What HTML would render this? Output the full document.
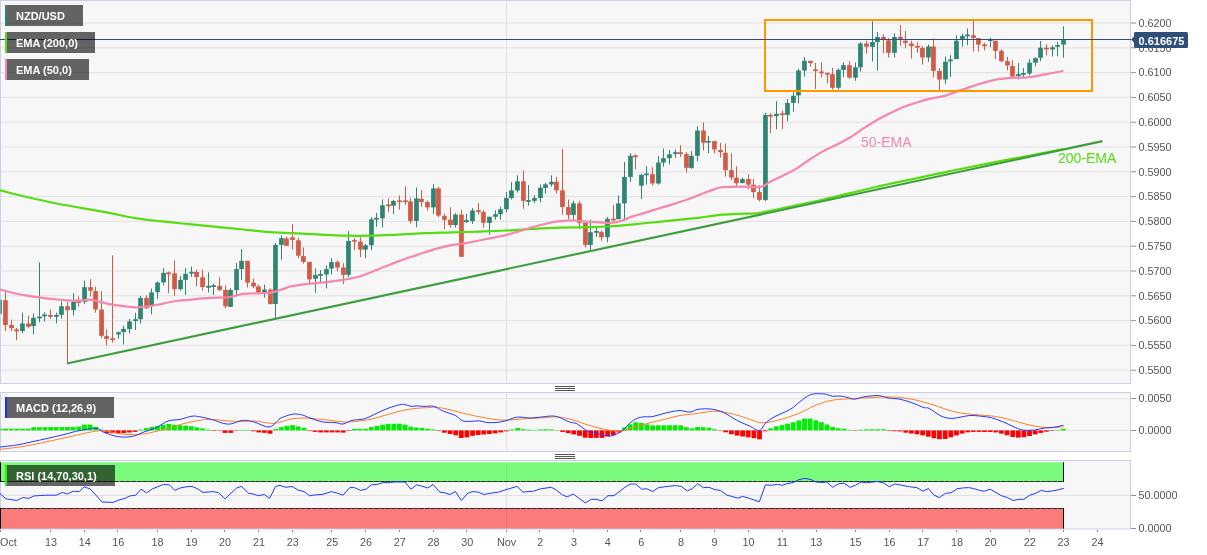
<!DOCTYPE html>
<html lang="en"><head><meta charset="utf-8"><title>NZD/USD chart</title>
<style>html,body{margin:0;padding:0;background:#fff;}body{width:1207px;height:555px;overflow:hidden;}svg{display:block}</style>
</head><body>
<svg width="1207" height="555" viewBox="0 0 1207 555" font-family="'Liberation Sans', Arial, sans-serif">
<rect width="1207" height="555" fill="#ffffff"/>
<rect x="0.5" y="0.5" width="1130.0" height="383.0" fill="#f7f7f7" stroke="#c9cfe6" stroke-width="1"/>
<rect x="0.5" y="392.5" width="1130.0" height="59.0" fill="#f7f7f7" stroke="#c9cfe6" stroke-width="1"/>
<rect x="0.5" y="460.5" width="1130.0" height="68.5" fill="#f7f7f7" stroke="#c9cfe6" stroke-width="1"/>
<g stroke="#e1e1e1" stroke-width="1">
<line x1="1" y1="23.0" x2="1130" y2="23.0"/>
<line x1="1" y1="47.8" x2="1130" y2="47.8"/>
<line x1="1" y1="72.6" x2="1130" y2="72.6"/>
<line x1="1" y1="97.4" x2="1130" y2="97.4"/>
<line x1="1" y1="122.2" x2="1130" y2="122.2"/>
<line x1="1" y1="147.0" x2="1130" y2="147.0"/>
<line x1="1" y1="171.8" x2="1130" y2="171.8"/>
<line x1="1" y1="196.6" x2="1130" y2="196.6"/>
<line x1="1" y1="221.4" x2="1130" y2="221.4"/>
<line x1="1" y1="246.2" x2="1130" y2="246.2"/>
<line x1="1" y1="271.0" x2="1130" y2="271.0"/>
<line x1="1" y1="295.8" x2="1130" y2="295.8"/>
<line x1="1" y1="320.6" x2="1130" y2="320.6"/>
<line x1="1" y1="345.4" x2="1130" y2="345.4"/>
<line x1="1" y1="370.2" x2="1130" y2="370.2"/>
<line x1="506.5" y1="1" x2="506.5" y2="383"/>
<line x1="506.5" y1="393" x2="506.5" y2="451"/>
<line x1="506.5" y1="461" x2="506.5" y2="528"/>
<line x1="1" y1="398.5" x2="1130" y2="398.5"/>
<line x1="1" y1="430.5" x2="1130" y2="430.5"/>
<line x1="1" y1="495.5" x2="1130" y2="495.5"/>
</g>
<rect x="-1.0" y="293.2" width="1" height="28.1" fill="#2f8572"/>
<rect x="0.5" y="299.7" width="1.35" height="14.1" fill="#2f8572"/>
<rect x="5.0" y="292.2" width="1" height="38.9" fill="#d25a46"/>
<rect x="3.1" y="300.2" width="4.70" height="24.9" fill="#d25a46"/>
<rect x="11.0" y="319.6" width="1" height="11.5" fill="#d25a46"/>
<rect x="9.2" y="325.0" width="4.70" height="3.2" fill="#d25a46"/>
<rect x="16.0" y="327.8" width="1" height="12.5" fill="#d25a46"/>
<rect x="14.2" y="329.4" width="4.70" height="1.9" fill="#d25a46"/>
<rect x="22.0" y="312.7" width="1" height="20.5" fill="#2f8572"/>
<rect x="20.1" y="323.5" width="4.70" height="7.6" fill="#2f8572"/>
<rect x="28.0" y="315.5" width="1" height="12.3" fill="#d25a46"/>
<rect x="26.1" y="323.5" width="4.70" height="3.2" fill="#d25a46"/>
<rect x="33.0" y="313.4" width="1" height="21.0" fill="#2f8572"/>
<rect x="31.1" y="317.7" width="4.70" height="8.4" fill="#2f8572"/>
<rect x="39.0" y="262.3" width="1" height="60.1" fill="#2f8572"/>
<rect x="37.1" y="316.6" width="4.70" height="1.8" fill="#2f8572"/>
<rect x="44.0" y="312.3" width="1" height="9.1" fill="#2f8572"/>
<rect x="42.1" y="314.5" width="4.70" height="1.8" fill="#2f8572"/>
<rect x="50.0" y="309.5" width="1" height="9.3" fill="#d25a46"/>
<rect x="48.1" y="315.0" width="4.70" height="1.8" fill="#d25a46"/>
<rect x="56.0" y="312.7" width="1" height="10.8" fill="#2f8572"/>
<rect x="54.1" y="315.0" width="4.70" height="1.8" fill="#2f8572"/>
<rect x="61.0" y="301.2" width="1" height="17.5" fill="#2f8572"/>
<rect x="59.1" y="306.2" width="4.70" height="8.6" fill="#2f8572"/>
<rect x="67.0" y="301.9" width="1" height="62.1" fill="#d25a46"/>
<rect x="65.2" y="306.2" width="4.70" height="3.9" fill="#d25a46"/>
<rect x="73.0" y="293.2" width="1" height="22.3" fill="#2f8572"/>
<rect x="71.2" y="301.9" width="4.70" height="8.2" fill="#2f8572"/>
<rect x="78.0" y="296.5" width="1" height="10.2" fill="#d25a46"/>
<rect x="76.2" y="301.0" width="4.70" height="1.8" fill="#d25a46"/>
<rect x="84.0" y="280.7" width="1" height="23.4" fill="#2f8572"/>
<rect x="82.2" y="287.2" width="4.70" height="14.7" fill="#2f8572"/>
<rect x="90.0" y="279.2" width="1" height="17.3" fill="#d25a46"/>
<rect x="88.2" y="287.2" width="4.70" height="3.5" fill="#d25a46"/>
<rect x="95.0" y="286.8" width="1" height="25.9" fill="#d25a46"/>
<rect x="93.2" y="291.1" width="4.70" height="18.4" fill="#d25a46"/>
<rect x="101.0" y="291.1" width="1" height="47.1" fill="#d25a46"/>
<rect x="99.2" y="309.5" width="4.70" height="26.4" fill="#d25a46"/>
<rect x="106.0" y="329.6" width="1" height="16.0" fill="#d25a46"/>
<rect x="104.2" y="336.1" width="4.70" height="2.8" fill="#d25a46"/>
<rect x="112.0" y="255.4" width="1" height="87.1" fill="#d25a46"/>
<rect x="110.2" y="338.3" width="4.70" height="1.8" fill="#d25a46"/>
<rect x="118.0" y="331.7" width="1" height="6.9" fill="#2f8572"/>
<rect x="116.2" y="332.2" width="4.70" height="2.2" fill="#2f8572"/>
<rect x="123.0" y="325.7" width="1" height="18.8" fill="#2f8572"/>
<rect x="121.2" y="328.9" width="4.70" height="3.2" fill="#2f8572"/>
<rect x="129.0" y="318.8" width="1" height="14.5" fill="#2f8572"/>
<rect x="127.2" y="321.4" width="4.70" height="7.6" fill="#2f8572"/>
<rect x="135.0" y="312.7" width="1" height="17.3" fill="#2f8572"/>
<rect x="133.2" y="319.2" width="4.70" height="1.8" fill="#2f8572"/>
<rect x="140.0" y="296.1" width="1" height="27.5" fill="#2f8572"/>
<rect x="138.2" y="298.0" width="4.70" height="21.2" fill="#2f8572"/>
<rect x="146.0" y="295.4" width="1" height="13.4" fill="#d25a46"/>
<rect x="144.2" y="298.0" width="4.70" height="10.4" fill="#d25a46"/>
<rect x="151.0" y="288.5" width="1" height="25.9" fill="#2f8572"/>
<rect x="149.2" y="292.4" width="4.70" height="13.0" fill="#2f8572"/>
<rect x="157.0" y="281.6" width="1" height="17.3" fill="#2f8572"/>
<rect x="155.2" y="282.5" width="4.70" height="9.7" fill="#2f8572"/>
<rect x="163.0" y="268.0" width="1" height="17.3" fill="#2f8572"/>
<rect x="161.2" y="272.9" width="4.70" height="9.5" fill="#2f8572"/>
<rect x="168.0" y="271.6" width="1" height="21.6" fill="#d25a46"/>
<rect x="166.2" y="272.4" width="4.70" height="1.8" fill="#d25a46"/>
<rect x="174.0" y="260.4" width="1" height="35.7" fill="#d25a46"/>
<rect x="172.2" y="273.4" width="4.70" height="15.8" fill="#d25a46"/>
<rect x="180.0" y="276.0" width="1" height="14.7" fill="#2f8572"/>
<rect x="178.2" y="279.9" width="4.70" height="9.3" fill="#2f8572"/>
<rect x="185.0" y="268.0" width="1" height="27.0" fill="#2f8572"/>
<rect x="183.2" y="273.8" width="4.70" height="6.1" fill="#2f8572"/>
<rect x="191.0" y="266.5" width="1" height="10.2" fill="#2f8572"/>
<rect x="189.2" y="271.8" width="4.70" height="1.8" fill="#2f8572"/>
<rect x="196.0" y="269.5" width="1" height="16.9" fill="#d25a46"/>
<rect x="194.2" y="271.9" width="4.70" height="5.2" fill="#d25a46"/>
<rect x="202.0" y="269.5" width="1" height="21.2" fill="#d25a46"/>
<rect x="200.2" y="277.3" width="4.70" height="9.7" fill="#d25a46"/>
<rect x="208.0" y="272.3" width="1" height="20.1" fill="#2f8572"/>
<rect x="206.2" y="285.9" width="4.70" height="1.8" fill="#2f8572"/>
<rect x="213.0" y="283.8" width="1" height="11.2" fill="#2f8572"/>
<rect x="211.2" y="285.2" width="4.70" height="1.8" fill="#2f8572"/>
<rect x="219.0" y="277.3" width="1" height="13.8" fill="#d25a46"/>
<rect x="217.2" y="285.9" width="4.70" height="4.1" fill="#d25a46"/>
<rect x="225.0" y="285.3" width="1" height="23.1" fill="#d25a46"/>
<rect x="223.2" y="290.0" width="4.70" height="16.4" fill="#d25a46"/>
<rect x="230.0" y="288.1" width="1" height="18.8" fill="#2f8572"/>
<rect x="228.2" y="290.0" width="4.70" height="16.9" fill="#2f8572"/>
<rect x="236.0" y="263.0" width="1" height="32.0" fill="#2f8572"/>
<rect x="234.2" y="269.1" width="4.70" height="21.0" fill="#2f8572"/>
<rect x="241.0" y="249.2" width="1" height="30.7" fill="#2f8572"/>
<rect x="239.2" y="260.8" width="4.70" height="8.2" fill="#2f8572"/>
<rect x="247.0" y="260.8" width="1" height="26.6" fill="#d25a46"/>
<rect x="245.2" y="260.8" width="4.70" height="21.8" fill="#d25a46"/>
<rect x="253.0" y="278.4" width="1" height="9.7" fill="#d25a46"/>
<rect x="251.2" y="282.7" width="4.70" height="3.7" fill="#d25a46"/>
<rect x="258.0" y="284.6" width="1" height="8.6" fill="#d25a46"/>
<rect x="256.1" y="286.4" width="4.70" height="6.1" fill="#d25a46"/>
<rect x="264.0" y="284.6" width="1" height="13.0" fill="#2f8572"/>
<rect x="262.1" y="289.6" width="4.70" height="2.8" fill="#2f8572"/>
<rect x="270.0" y="288.5" width="1" height="15.6" fill="#d25a46"/>
<rect x="268.1" y="289.6" width="4.70" height="14.5" fill="#d25a46"/>
<rect x="275.0" y="243.1" width="1" height="76.8" fill="#2f8572"/>
<rect x="273.1" y="244.8" width="4.70" height="59.2" fill="#2f8572"/>
<rect x="281.0" y="235.5" width="1" height="24.2" fill="#2f8572"/>
<rect x="279.1" y="238.1" width="4.70" height="6.7" fill="#2f8572"/>
<rect x="286.0" y="236.6" width="1" height="9.1" fill="#d25a46"/>
<rect x="284.1" y="238.4" width="4.70" height="7.4" fill="#d25a46"/>
<rect x="292.0" y="224.1" width="1" height="25.5" fill="#d25a46"/>
<rect x="290.1" y="237.3" width="4.70" height="2.6" fill="#d25a46"/>
<rect x="298.0" y="237.7" width="1" height="20.5" fill="#d25a46"/>
<rect x="296.1" y="240.3" width="4.70" height="15.4" fill="#d25a46"/>
<rect x="303.0" y="247.4" width="1" height="16.2" fill="#d25a46"/>
<rect x="301.1" y="256.1" width="4.70" height="5.8" fill="#d25a46"/>
<rect x="309.0" y="261.9" width="1" height="22.3" fill="#d25a46"/>
<rect x="307.1" y="261.9" width="4.70" height="17.5" fill="#d25a46"/>
<rect x="315.0" y="268.4" width="1" height="24.4" fill="#2f8572"/>
<rect x="313.1" y="275.1" width="4.70" height="3.7" fill="#2f8572"/>
<rect x="320.0" y="270.1" width="1" height="11.9" fill="#2f8572"/>
<rect x="318.1" y="274.0" width="4.70" height="1.8" fill="#2f8572"/>
<rect x="326.0" y="265.4" width="1" height="23.1" fill="#2f8572"/>
<rect x="324.1" y="269.1" width="4.70" height="5.4" fill="#2f8572"/>
<rect x="331.0" y="258.2" width="1" height="16.2" fill="#2f8572"/>
<rect x="329.1" y="262.1" width="4.70" height="6.5" fill="#2f8572"/>
<rect x="337.0" y="260.4" width="1" height="10.8" fill="#d25a46"/>
<rect x="335.1" y="262.1" width="4.70" height="5.4" fill="#d25a46"/>
<rect x="343.0" y="263.2" width="1" height="21.0" fill="#d25a46"/>
<rect x="341.1" y="267.5" width="4.70" height="7.4" fill="#d25a46"/>
<rect x="348.0" y="231.2" width="1" height="45.8" fill="#2f8572"/>
<rect x="346.1" y="240.9" width="4.70" height="33.9" fill="#2f8572"/>
<rect x="354.0" y="238.1" width="1" height="12.1" fill="#d25a46"/>
<rect x="352.1" y="239.9" width="4.70" height="1.8" fill="#d25a46"/>
<rect x="360.0" y="237.3" width="1" height="19.9" fill="#d25a46"/>
<rect x="358.1" y="241.6" width="4.70" height="8.0" fill="#d25a46"/>
<rect x="365.0" y="243.8" width="1" height="14.5" fill="#2f8572"/>
<rect x="363.1" y="245.3" width="4.70" height="4.3" fill="#2f8572"/>
<rect x="371.0" y="217.2" width="1" height="33.1" fill="#2f8572"/>
<rect x="369.1" y="219.3" width="4.70" height="25.9" fill="#2f8572"/>
<rect x="376.0" y="212.8" width="1" height="14.1" fill="#2f8572"/>
<rect x="374.1" y="217.8" width="4.70" height="1.8" fill="#2f8572"/>
<rect x="382.0" y="199.4" width="1" height="27.9" fill="#2f8572"/>
<rect x="380.1" y="205.3" width="4.70" height="13.0" fill="#2f8572"/>
<rect x="388.0" y="198.4" width="1" height="13.8" fill="#d25a46"/>
<rect x="386.1" y="204.4" width="4.70" height="1.8" fill="#d25a46"/>
<rect x="393.0" y="199.9" width="1" height="14.1" fill="#2f8572"/>
<rect x="391.1" y="200.9" width="4.70" height="4.8" fill="#2f8572"/>
<rect x="399.0" y="195.5" width="1" height="14.1" fill="#d25a46"/>
<rect x="397.1" y="200.4" width="4.70" height="1.8" fill="#d25a46"/>
<rect x="405.0" y="186.2" width="1" height="18.6" fill="#d25a46"/>
<rect x="403.1" y="200.4" width="4.70" height="1.8" fill="#d25a46"/>
<rect x="410.0" y="197.7" width="1" height="25.9" fill="#d25a46"/>
<rect x="408.1" y="201.4" width="4.70" height="19.5" fill="#d25a46"/>
<rect x="416.0" y="187.5" width="1" height="39.8" fill="#2f8572"/>
<rect x="414.1" y="198.4" width="4.70" height="22.5" fill="#2f8572"/>
<rect x="421.0" y="190.1" width="1" height="16.9" fill="#d25a46"/>
<rect x="419.1" y="198.8" width="4.70" height="3.2" fill="#d25a46"/>
<rect x="427.0" y="200.5" width="1" height="10.2" fill="#d25a46"/>
<rect x="425.1" y="202.0" width="4.70" height="5.4" fill="#d25a46"/>
<rect x="433.0" y="184.1" width="1" height="29.8" fill="#2f8572"/>
<rect x="431.1" y="188.4" width="4.70" height="19.0" fill="#2f8572"/>
<rect x="438.0" y="186.9" width="1" height="30.3" fill="#d25a46"/>
<rect x="436.1" y="188.4" width="4.70" height="27.2" fill="#d25a46"/>
<rect x="444.0" y="213.5" width="1" height="15.6" fill="#d25a46"/>
<rect x="442.1" y="216.1" width="4.70" height="3.7" fill="#d25a46"/>
<rect x="450.0" y="207.3" width="1" height="20.3" fill="#d25a46"/>
<rect x="448.1" y="219.6" width="4.70" height="5.4" fill="#d25a46"/>
<rect x="455.0" y="213.1" width="1" height="14.5" fill="#2f8572"/>
<rect x="453.1" y="214.6" width="4.70" height="10.4" fill="#2f8572"/>
<rect x="461.0" y="209.9" width="1" height="46.9" fill="#d25a46"/>
<rect x="459.1" y="214.6" width="4.70" height="42.2" fill="#d25a46"/>
<rect x="466.0" y="213.8" width="1" height="9.1" fill="#2f8572"/>
<rect x="464.1" y="220.2" width="4.70" height="1.8" fill="#2f8572"/>
<rect x="472.0" y="208.1" width="1" height="15.8" fill="#2f8572"/>
<rect x="470.1" y="210.5" width="4.70" height="10.6" fill="#2f8572"/>
<rect x="478.0" y="202.9" width="1" height="11.7" fill="#d25a46"/>
<rect x="476.1" y="210.2" width="4.70" height="1.8" fill="#d25a46"/>
<rect x="483.0" y="209.9" width="1" height="17.7" fill="#d25a46"/>
<rect x="481.1" y="212.0" width="4.70" height="10.8" fill="#d25a46"/>
<rect x="489.0" y="216.8" width="1" height="17.9" fill="#2f8572"/>
<rect x="487.1" y="216.8" width="4.70" height="6.1" fill="#2f8572"/>
<rect x="495.0" y="210.3" width="1" height="9.3" fill="#2f8572"/>
<rect x="493.1" y="214.2" width="4.70" height="2.6" fill="#2f8572"/>
<rect x="500.0" y="206.6" width="1" height="13.0" fill="#2f8572"/>
<rect x="498.1" y="209.2" width="4.70" height="5.0" fill="#2f8572"/>
<rect x="506.0" y="192.1" width="1" height="20.3" fill="#2f8572"/>
<rect x="504.1" y="198.0" width="4.70" height="11.2" fill="#2f8572"/>
<rect x="511.0" y="182.2" width="1" height="17.3" fill="#2f8572"/>
<rect x="509.1" y="190.4" width="4.70" height="7.6" fill="#2f8572"/>
<rect x="517.0" y="175.3" width="1" height="17.3" fill="#2f8572"/>
<rect x="515.1" y="181.3" width="4.70" height="9.1" fill="#2f8572"/>
<rect x="523.0" y="170.3" width="1" height="38.5" fill="#d25a46"/>
<rect x="521.1" y="181.3" width="4.70" height="19.5" fill="#d25a46"/>
<rect x="528.0" y="185.0" width="1" height="20.5" fill="#2f8572"/>
<rect x="526.1" y="200.1" width="4.70" height="1.8" fill="#2f8572"/>
<rect x="534.0" y="195.2" width="1" height="7.8" fill="#2f8572"/>
<rect x="532.1" y="198.0" width="4.70" height="2.8" fill="#2f8572"/>
<rect x="540.0" y="184.4" width="1" height="17.9" fill="#2f8572"/>
<rect x="538.1" y="187.8" width="4.70" height="10.2" fill="#2f8572"/>
<rect x="545.0" y="182.8" width="1" height="10.8" fill="#2f8572"/>
<rect x="543.1" y="184.4" width="4.70" height="3.5" fill="#2f8572"/>
<rect x="551.0" y="175.3" width="1" height="11.2" fill="#2f8572"/>
<rect x="549.1" y="181.8" width="4.70" height="2.6" fill="#2f8572"/>
<rect x="556.0" y="177.0" width="1" height="16.6" fill="#d25a46"/>
<rect x="554.1" y="181.8" width="4.70" height="8.6" fill="#d25a46"/>
<rect x="562.0" y="148.9" width="1" height="65.7" fill="#d25a46"/>
<rect x="560.1" y="190.4" width="4.70" height="16.6" fill="#d25a46"/>
<rect x="568.0" y="199.5" width="1" height="20.1" fill="#d25a46"/>
<rect x="566.1" y="207.1" width="4.70" height="7.8" fill="#d25a46"/>
<rect x="573.0" y="200.8" width="1" height="18.8" fill="#2f8572"/>
<rect x="571.1" y="203.4" width="4.70" height="11.5" fill="#2f8572"/>
<rect x="579.0" y="200.8" width="1" height="28.5" fill="#d25a46"/>
<rect x="577.1" y="203.4" width="4.70" height="19.5" fill="#d25a46"/>
<rect x="585.0" y="222.8" width="1" height="24.9" fill="#d25a46"/>
<rect x="583.1" y="222.8" width="4.70" height="22.1" fill="#d25a46"/>
<rect x="590.0" y="219.6" width="1" height="30.7" fill="#2f8572"/>
<rect x="588.1" y="232.1" width="4.70" height="12.8" fill="#2f8572"/>
<rect x="596.0" y="227.2" width="1" height="9.7" fill="#2f8572"/>
<rect x="594.1" y="231.0" width="4.70" height="1.8" fill="#2f8572"/>
<rect x="601.0" y="230.4" width="1" height="10.4" fill="#d25a46"/>
<rect x="599.1" y="232.1" width="4.70" height="5.2" fill="#d25a46"/>
<rect x="607.0" y="217.0" width="1" height="25.3" fill="#2f8572"/>
<rect x="605.1" y="218.8" width="4.70" height="18.4" fill="#2f8572"/>
<rect x="613.0" y="205.1" width="1" height="16.2" fill="#d25a46"/>
<rect x="611.1" y="218.7" width="4.70" height="1.8" fill="#d25a46"/>
<rect x="618.0" y="195.4" width="1" height="23.8" fill="#2f8572"/>
<rect x="616.1" y="203.4" width="4.70" height="15.8" fill="#2f8572"/>
<rect x="624.0" y="161.9" width="1" height="58.4" fill="#2f8572"/>
<rect x="622.1" y="177.0" width="4.70" height="26.4" fill="#2f8572"/>
<rect x="630.0" y="153.2" width="1" height="28.5" fill="#2f8572"/>
<rect x="628.1" y="155.8" width="4.70" height="21.2" fill="#2f8572"/>
<rect x="635.0" y="154.3" width="1" height="15.1" fill="#d25a46"/>
<rect x="633.1" y="155.4" width="4.70" height="1.8" fill="#d25a46"/>
<rect x="641.0" y="173.8" width="1" height="25.3" fill="#2f8572"/>
<rect x="639.1" y="174.9" width="4.70" height="10.8" fill="#2f8572"/>
<rect x="646.0" y="166.2" width="1" height="18.4" fill="#2f8572"/>
<rect x="644.1" y="173.5" width="4.70" height="1.8" fill="#2f8572"/>
<rect x="652.0" y="167.3" width="1" height="18.4" fill="#d25a46"/>
<rect x="650.1" y="174.2" width="4.70" height="9.3" fill="#d25a46"/>
<rect x="658.0" y="156.1" width="1" height="28.5" fill="#2f8572"/>
<rect x="656.1" y="162.5" width="4.70" height="21.0" fill="#2f8572"/>
<rect x="663.0" y="148.5" width="1" height="18.2" fill="#2f8572"/>
<rect x="661.1" y="158.2" width="4.70" height="4.3" fill="#2f8572"/>
<rect x="669.0" y="150.0" width="1" height="14.5" fill="#2f8572"/>
<rect x="667.1" y="154.3" width="4.70" height="3.9" fill="#2f8572"/>
<rect x="675.0" y="149.4" width="1" height="8.2" fill="#2f8572"/>
<rect x="673.1" y="152.2" width="4.70" height="1.8" fill="#2f8572"/>
<rect x="680.0" y="145.2" width="1" height="11.7" fill="#d25a46"/>
<rect x="678.1" y="152.2" width="4.70" height="1.8" fill="#d25a46"/>
<rect x="686.0" y="152.2" width="1" height="20.5" fill="#d25a46"/>
<rect x="684.1" y="154.1" width="4.70" height="13.8" fill="#d25a46"/>
<rect x="691.0" y="151.1" width="1" height="17.7" fill="#2f8572"/>
<rect x="689.1" y="155.8" width="4.70" height="12.1" fill="#2f8572"/>
<rect x="697.0" y="126.2" width="1" height="35.2" fill="#2f8572"/>
<rect x="695.1" y="130.5" width="4.70" height="25.3" fill="#2f8572"/>
<rect x="703.0" y="122.5" width="1" height="28.1" fill="#d25a46"/>
<rect x="701.1" y="130.5" width="4.70" height="12.3" fill="#d25a46"/>
<rect x="708.0" y="135.9" width="1" height="17.3" fill="#2f8572"/>
<rect x="706.1" y="140.9" width="4.70" height="1.8" fill="#2f8572"/>
<rect x="714.0" y="141.1" width="1" height="12.1" fill="#d25a46"/>
<rect x="712.1" y="141.1" width="4.70" height="8.4" fill="#d25a46"/>
<rect x="720.0" y="142.9" width="1" height="14.7" fill="#d25a46"/>
<rect x="718.1" y="150.0" width="4.70" height="2.2" fill="#d25a46"/>
<rect x="725.0" y="143.5" width="1" height="33.1" fill="#d25a46"/>
<rect x="723.1" y="152.8" width="4.70" height="17.3" fill="#d25a46"/>
<rect x="731.0" y="153.2" width="1" height="27.0" fill="#d25a46"/>
<rect x="729.1" y="170.1" width="4.70" height="7.4" fill="#d25a46"/>
<rect x="736.0" y="166.2" width="1" height="19.5" fill="#d25a46"/>
<rect x="734.1" y="177.7" width="4.70" height="5.4" fill="#d25a46"/>
<rect x="742.0" y="177.6" width="1" height="5.8" fill="#2f8572"/>
<rect x="740.1" y="179.1" width="4.70" height="3.9" fill="#2f8572"/>
<rect x="748.0" y="174.3" width="1" height="15.1" fill="#d25a46"/>
<rect x="746.1" y="179.1" width="4.70" height="5.6" fill="#d25a46"/>
<rect x="753.0" y="179.1" width="1" height="19.0" fill="#d25a46"/>
<rect x="751.1" y="184.7" width="4.70" height="7.4" fill="#d25a46"/>
<rect x="759.0" y="185.1" width="1" height="16.2" fill="#d25a46"/>
<rect x="757.1" y="192.1" width="4.70" height="7.8" fill="#d25a46"/>
<rect x="765.0" y="112.7" width="1" height="88.6" fill="#2f8572"/>
<rect x="763.1" y="114.9" width="4.70" height="85.0" fill="#2f8572"/>
<rect x="770.0" y="113.4" width="1" height="19.9" fill="#d25a46"/>
<rect x="768.1" y="114.8" width="4.70" height="1.8" fill="#d25a46"/>
<rect x="776.0" y="101.2" width="1" height="28.1" fill="#2f8572"/>
<rect x="774.1" y="113.8" width="4.70" height="2.4" fill="#2f8572"/>
<rect x="782.0" y="110.5" width="1" height="18.8" fill="#d25a46"/>
<rect x="780.1" y="113.3" width="4.70" height="1.8" fill="#d25a46"/>
<rect x="787.0" y="99.1" width="1" height="22.3" fill="#2f8572"/>
<rect x="785.1" y="103.0" width="4.70" height="11.9" fill="#2f8572"/>
<rect x="793.0" y="92.2" width="1" height="19.5" fill="#2f8572"/>
<rect x="791.1" y="95.8" width="4.70" height="7.1" fill="#2f8572"/>
<rect x="798.0" y="68.8" width="1" height="34.6" fill="#2f8572"/>
<rect x="796.1" y="70.5" width="4.70" height="24.9" fill="#2f8572"/>
<rect x="804.0" y="57.1" width="1" height="19.5" fill="#2f8572"/>
<rect x="802.1" y="60.8" width="4.70" height="9.7" fill="#2f8572"/>
<rect x="810.0" y="60.8" width="1" height="5.8" fill="#d25a46"/>
<rect x="808.1" y="60.8" width="4.70" height="2.2" fill="#d25a46"/>
<rect x="815.0" y="63.0" width="1" height="25.9" fill="#d25a46"/>
<rect x="813.1" y="69.4" width="4.70" height="1.8" fill="#d25a46"/>
<rect x="821.0" y="62.3" width="1" height="15.4" fill="#d25a46"/>
<rect x="819.1" y="71.5" width="4.70" height="1.8" fill="#d25a46"/>
<rect x="827.0" y="72.7" width="1" height="10.8" fill="#d25a46"/>
<rect x="825.1" y="72.8" width="4.70" height="1.8" fill="#d25a46"/>
<rect x="832.0" y="67.9" width="1" height="21.6" fill="#d25a46"/>
<rect x="830.1" y="74.2" width="4.70" height="13.6" fill="#d25a46"/>
<rect x="838.0" y="68.4" width="1" height="21.2" fill="#2f8572"/>
<rect x="836.1" y="69.9" width="4.70" height="17.9" fill="#2f8572"/>
<rect x="843.0" y="62.3" width="1" height="14.7" fill="#2f8572"/>
<rect x="841.1" y="65.1" width="4.70" height="4.8" fill="#2f8572"/>
<rect x="849.0" y="61.2" width="1" height="17.5" fill="#d25a46"/>
<rect x="847.1" y="65.1" width="4.70" height="12.5" fill="#d25a46"/>
<rect x="855.0" y="62.3" width="1" height="18.4" fill="#2f8572"/>
<rect x="853.1" y="67.3" width="4.70" height="10.4" fill="#2f8572"/>
<rect x="860.0" y="42.0" width="1" height="29.6" fill="#2f8572"/>
<rect x="858.1" y="43.5" width="4.70" height="23.8" fill="#2f8572"/>
<rect x="866.0" y="40.7" width="1" height="13.0" fill="#d25a46"/>
<rect x="864.1" y="43.5" width="4.70" height="3.2" fill="#d25a46"/>
<rect x="872.0" y="21.2" width="1" height="40.2" fill="#2f8572"/>
<rect x="870.1" y="42.0" width="4.70" height="4.8" fill="#2f8572"/>
<rect x="877.0" y="32.1" width="1" height="38.5" fill="#2f8572"/>
<rect x="875.1" y="37.0" width="4.70" height="5.0" fill="#2f8572"/>
<rect x="883.0" y="34.2" width="1" height="19.0" fill="#d25a46"/>
<rect x="881.1" y="37.0" width="4.70" height="2.2" fill="#d25a46"/>
<rect x="888.0" y="38.1" width="1" height="19.5" fill="#d25a46"/>
<rect x="886.1" y="40.3" width="4.70" height="12.5" fill="#d25a46"/>
<rect x="894.0" y="33.4" width="1" height="24.2" fill="#2f8572"/>
<rect x="892.1" y="37.0" width="4.70" height="15.8" fill="#2f8572"/>
<rect x="900.0" y="24.9" width="1" height="20.8" fill="#d25a46"/>
<rect x="898.1" y="37.0" width="4.70" height="1.9" fill="#d25a46"/>
<rect x="905.0" y="30.9" width="1" height="17.3" fill="#d25a46"/>
<rect x="903.1" y="40.7" width="4.70" height="2.2" fill="#d25a46"/>
<rect x="911.0" y="40.7" width="1" height="17.9" fill="#d25a46"/>
<rect x="909.1" y="43.5" width="4.70" height="2.6" fill="#d25a46"/>
<rect x="917.0" y="42.2" width="1" height="10.4" fill="#d25a46"/>
<rect x="915.1" y="45.8" width="4.70" height="1.8" fill="#d25a46"/>
<rect x="922.0" y="46.1" width="1" height="18.4" fill="#d25a46"/>
<rect x="920.1" y="47.8" width="4.70" height="9.7" fill="#d25a46"/>
<rect x="928.0" y="44.4" width="1" height="17.3" fill="#2f8572"/>
<rect x="926.1" y="46.5" width="4.70" height="11.0" fill="#2f8572"/>
<rect x="933.0" y="38.5" width="1" height="38.9" fill="#d25a46"/>
<rect x="931.1" y="46.5" width="4.70" height="24.4" fill="#d25a46"/>
<rect x="939.0" y="68.1" width="1" height="22.3" fill="#d25a46"/>
<rect x="937.1" y="70.9" width="4.70" height="8.6" fill="#d25a46"/>
<rect x="945.0" y="56.5" width="1" height="27.5" fill="#2f8572"/>
<rect x="943.1" y="61.6" width="4.70" height="17.9" fill="#2f8572"/>
<rect x="950.0" y="55.2" width="1" height="21.6" fill="#2f8572"/>
<rect x="948.1" y="59.5" width="4.70" height="1.8" fill="#2f8572"/>
<rect x="956.0" y="35.3" width="1" height="23.8" fill="#2f8572"/>
<rect x="954.1" y="40.7" width="4.70" height="18.4" fill="#2f8572"/>
<rect x="962.0" y="33.8" width="1" height="12.8" fill="#2f8572"/>
<rect x="960.1" y="35.9" width="4.70" height="3.7" fill="#2f8572"/>
<rect x="967.0" y="28.4" width="1" height="16.6" fill="#2f8572"/>
<rect x="965.1" y="34.5" width="4.70" height="1.8" fill="#2f8572"/>
<rect x="973.0" y="20.6" width="1" height="30.9" fill="#d25a46"/>
<rect x="971.1" y="35.3" width="4.70" height="2.6" fill="#d25a46"/>
<rect x="978.0" y="38.1" width="1" height="13.4" fill="#d25a46"/>
<rect x="976.1" y="38.1" width="4.70" height="6.5" fill="#d25a46"/>
<rect x="984.0" y="42.8" width="1" height="7.6" fill="#d25a46"/>
<rect x="982.1" y="44.4" width="4.70" height="1.8" fill="#d25a46"/>
<rect x="990.0" y="37.9" width="1" height="9.3" fill="#2f8572"/>
<rect x="988.1" y="39.2" width="4.70" height="1.8" fill="#2f8572"/>
<rect x="995.0" y="40.7" width="1" height="18.4" fill="#d25a46"/>
<rect x="993.1" y="40.7" width="4.70" height="10.2" fill="#d25a46"/>
<rect x="1001.0" y="49.3" width="1" height="13.0" fill="#d25a46"/>
<rect x="999.1" y="50.8" width="4.70" height="10.4" fill="#d25a46"/>
<rect x="1007.0" y="56.9" width="1" height="13.4" fill="#d25a46"/>
<rect x="1005.1" y="61.2" width="4.70" height="4.3" fill="#d25a46"/>
<rect x="1012.0" y="60.1" width="1" height="17.3" fill="#d25a46"/>
<rect x="1010.1" y="66.0" width="4.70" height="10.4" fill="#d25a46"/>
<rect x="1018.0" y="62.9" width="1" height="16.6" fill="#2f8572"/>
<rect x="1016.1" y="74.2" width="4.70" height="1.8" fill="#2f8572"/>
<rect x="1023.0" y="68.1" width="1" height="9.0" fill="#2f8572"/>
<rect x="1021.1" y="73.0" width="4.70" height="1.8" fill="#2f8572"/>
<rect x="1029.0" y="59.1" width="1" height="16.2" fill="#2f8572"/>
<rect x="1027.2" y="62.7" width="4.70" height="10.8" fill="#2f8572"/>
<rect x="1035.0" y="57.3" width="1" height="9.0" fill="#2f8572"/>
<rect x="1033.2" y="58.2" width="4.70" height="4.5" fill="#2f8572"/>
<rect x="1040.0" y="41.0" width="1" height="20.2" fill="#2f8572"/>
<rect x="1038.2" y="47.7" width="4.70" height="10.1" fill="#2f8572"/>
<rect x="1046.0" y="44.3" width="1" height="11.2" fill="#d25a46"/>
<rect x="1044.2" y="47.7" width="4.70" height="1.8" fill="#d25a46"/>
<rect x="1052.0" y="45.5" width="1" height="10.8" fill="#2f8572"/>
<rect x="1050.2" y="47.3" width="4.70" height="2.2" fill="#2f8572"/>
<rect x="1057.0" y="41.9" width="1" height="14.4" fill="#2f8572"/>
<rect x="1055.2" y="45.0" width="4.70" height="1.8" fill="#2f8572"/>
<rect x="1063.0" y="26.3" width="1" height="31.4" fill="#2f8572"/>
<rect x="1061.2" y="39.6" width="4.70" height="5.0" fill="#2f8572"/>
<path d="M0.0 190.3C4.5 191.4 18.0 194.9 27.0 197.0C36.0 199.1 45.0 201.2 54.0 203.0C63.0 204.8 72.0 206.2 81.0 207.8C90.0 209.4 99.0 211.0 108.0 212.7C117.0 214.4 126.0 216.6 135.0 218.1C144.0 219.6 153.0 220.4 162.0 221.4C171.0 222.4 180.0 223.2 189.0 224.1C198.0 225.0 207.0 225.9 216.0 226.8C225.0 227.7 234.0 228.6 243.0 229.5C252.0 230.4 261.0 231.5 270.0 232.2C279.0 232.8 289.2 233.1 297.0 233.4C304.8 233.8 309.2 233.9 317.0 234.3C324.8 234.7 335.0 235.5 344.0 235.7C353.0 235.9 362.0 235.9 371.0 235.7C380.0 235.5 389.0 235.0 398.0 234.6C407.0 234.2 416.0 233.6 425.0 233.2C434.0 232.8 443.0 232.7 452.0 232.4C461.0 232.1 470.0 231.9 479.0 231.6C488.0 231.3 497.0 230.9 506.0 230.5C515.0 230.1 524.0 229.4 533.0 228.9C542.0 228.4 551.0 227.9 560.0 227.6C569.0 227.3 579.2 227.4 587.0 227.2C594.8 227.0 599.2 227.0 607.0 226.5C614.8 226.0 625.0 225.1 634.0 224.3C643.0 223.5 652.0 222.5 661.0 221.6C670.0 220.7 681.5 219.6 688.0 218.9C694.5 218.2 694.7 218.3 700.0 217.6C705.3 216.9 713.3 215.5 720.0 214.9C726.7 214.3 734.2 214.2 740.0 213.9C745.8 213.7 751.3 213.6 755.0 213.4C758.7 213.2 759.5 213.0 762.0 212.6C764.5 212.2 767.0 211.4 770.0 210.8C773.0 210.2 775.0 209.9 780.0 208.8C785.0 207.8 793.3 205.9 800.0 204.5C806.7 203.1 811.7 202.1 820.0 200.2C828.3 198.3 840.5 195.3 850.0 193.1C859.5 190.9 870.3 188.4 877.0 186.8C883.7 185.2 885.5 184.7 890.0 183.7C894.5 182.7 897.2 182.3 904.0 180.9C910.8 179.5 923.3 176.8 931.0 175.2C938.7 173.6 945.5 172.0 950.0 171.1C954.5 170.2 952.2 170.7 958.0 169.5C963.8 168.3 976.0 165.9 985.0 164.1C994.0 162.3 1003.0 160.6 1012.0 158.9C1021.0 157.2 1030.4 155.5 1039.0 153.9C1047.6 152.3 1059.4 150.0 1063.5 149.2" fill="none" stroke="#55dd11" stroke-width="2.2" stroke-linejoin="round" stroke-linecap="butt"/>
<path d="M0.0 289.5C2.2 290.1 9.0 292.0 13.5 293.0C18.0 294.0 22.5 294.9 27.0 295.7C31.5 296.5 36.0 297.0 40.5 297.6C45.0 298.2 49.5 298.8 54.0 299.2C58.5 299.6 63.1 300.1 67.6 300.3C72.1 300.5 77.4 300.6 81.0 300.5C84.6 300.4 86.3 299.6 89.0 299.7C91.7 299.8 93.8 300.3 97.0 301.0C100.2 301.7 103.9 303.0 108.0 303.8C112.1 304.6 117.1 305.3 121.6 305.9C126.1 306.5 130.5 307.2 135.0 307.3C139.5 307.4 144.1 307.1 148.6 306.5C153.1 305.9 157.5 304.7 162.0 303.8C166.5 302.9 171.2 301.7 175.7 301.0C180.2 300.3 184.5 300.2 189.0 299.8C193.5 299.4 198.2 298.8 202.7 298.4C207.2 298.0 211.5 297.9 216.0 297.7C220.5 297.5 226.4 297.4 229.7 297.0C233.0 296.6 233.8 296.1 236.0 295.6C238.2 295.1 239.5 294.3 243.0 293.9C246.5 293.5 252.3 293.5 256.8 293.3C261.3 293.1 265.5 293.5 270.0 292.8C274.5 292.1 280.5 289.9 283.8 288.9C287.1 287.8 286.7 287.3 290.0 286.5C293.3 285.7 299.0 284.9 303.5 284.3C308.0 283.7 312.5 283.4 317.0 283.0C321.5 282.6 326.0 282.2 330.5 281.6C335.0 281.1 339.5 280.5 344.0 279.7C348.5 278.9 353.1 278.2 357.6 277.0C362.1 275.8 366.5 273.9 371.0 272.2C375.5 270.5 380.1 268.6 384.6 266.8C389.1 265.0 393.5 263.1 398.0 261.4C402.5 259.7 407.1 258.3 411.6 256.8C416.1 255.3 420.5 253.6 425.0 252.2C429.5 250.8 434.1 249.3 438.6 248.1C443.1 246.9 447.5 245.9 452.0 245.1C456.5 244.3 461.2 244.0 465.7 243.2C470.2 242.4 474.5 241.4 479.0 240.5C483.5 239.6 488.2 238.7 492.7 237.8C497.2 236.9 501.5 236.2 506.0 235.1C510.5 234.0 515.2 232.4 519.7 231.1C524.2 229.8 528.5 228.3 533.0 227.0C537.5 225.7 542.3 224.5 546.8 223.5C551.3 222.5 555.5 221.6 560.0 221.1C564.5 220.6 570.5 220.3 573.8 220.3C577.1 220.3 577.3 220.8 580.0 221.1C582.7 221.4 586.7 221.8 590.0 222.0C593.3 222.2 596.5 222.2 600.0 222.4C603.5 222.6 607.2 223.2 610.8 222.9C614.4 222.6 618.0 221.8 621.6 220.7C625.2 219.6 628.8 217.6 632.4 216.4C636.0 215.2 639.6 214.5 643.2 213.4C646.8 212.3 650.4 211.0 654.0 209.9C657.6 208.8 661.3 207.7 664.9 206.6C668.5 205.5 672.1 204.6 675.7 203.4C679.3 202.2 682.9 201.0 686.5 199.7C690.1 198.4 693.7 197.2 697.3 195.8C700.9 194.4 704.5 192.8 708.1 191.5C711.7 190.2 715.3 188.6 718.9 187.8C722.5 187.0 726.1 187.0 729.7 186.8C733.3 186.6 736.9 186.6 740.5 186.6C744.1 186.6 748.5 186.7 751.4 186.8C754.3 186.9 755.9 187.3 758.0 187.2C760.1 187.1 762.0 186.8 763.8 186.0C765.6 185.2 765.9 184.1 769.0 182.4C772.1 180.7 778.2 177.9 782.7 175.7C787.2 173.4 791.5 171.6 796.0 168.9C800.5 166.2 805.2 162.4 809.7 159.5C814.2 156.6 818.5 153.9 823.0 151.4C827.5 148.9 832.3 146.9 836.8 144.6C841.3 142.3 845.5 140.2 850.0 137.5C854.5 134.8 859.0 131.3 863.5 128.4C868.0 125.5 872.5 122.6 877.0 120.0C881.5 117.4 886.0 115.2 890.5 113.0C895.0 110.8 899.5 108.6 904.0 106.8C908.5 105.0 913.1 103.6 917.6 102.2C922.1 100.8 926.5 99.6 931.0 98.6C935.5 97.5 940.1 97.2 944.6 95.9C949.1 94.7 953.5 92.7 958.0 91.1C962.5 89.5 967.1 88.0 971.6 86.5C976.1 85.0 980.5 83.6 985.0 82.4C989.5 81.2 994.1 80.0 998.6 79.2C1003.1 78.4 1007.5 78.1 1012.0 77.8C1016.5 77.5 1021.2 77.9 1025.7 77.6C1030.2 77.2 1034.5 76.5 1039.0 75.7C1043.5 74.9 1048.6 73.8 1052.7 73.0C1056.8 72.2 1061.7 71.2 1063.5 70.8" fill="none" stroke="#f686ae" stroke-width="2.2" stroke-linejoin="round" stroke-linecap="butt"/>
<line x1="67" y1="363.5" x2="1102.5" y2="141.1" stroke="#3e9d3e" stroke-width="2.1"/>
<rect x="765" y="20" width="327" height="71" fill="none" stroke="#ff9800" stroke-width="2"/>
<line x1="0" y1="39.5" x2="1131" y2="39.5" stroke="#2f4f7a" stroke-width="1" shape-rendering="crispEdges"/>
<text x="861" y="147" font-size="14" fill="#f686ae">50-EMA</text>
<text x="1058" y="163" font-size="14" fill="#55dd11">200-EMA</text>
<rect x="0.5" y="428.7" width="1.9" height="1.7" fill="#00ee00"/>
<rect x="3.2" y="428.7" width="4.8" height="1.7" fill="#00ee00"/>
<rect x="8.8" y="428.7" width="4.8" height="1.7" fill="#00ee00"/>
<rect x="14.5" y="428.7" width="4.8" height="1.7" fill="#00ee00"/>
<rect x="20.1" y="428.7" width="4.8" height="1.7" fill="#00ee00"/>
<rect x="25.7" y="428.7" width="4.8" height="1.7" fill="#00ee00"/>
<rect x="31.3" y="427.2" width="4.8" height="3.2" fill="#00ee00"/>
<rect x="37.0" y="427.2" width="4.8" height="3.2" fill="#00ee00"/>
<rect x="42.6" y="427.1" width="4.8" height="3.3" fill="#00ee00"/>
<rect x="48.2" y="427.1" width="4.8" height="3.3" fill="#00ee00"/>
<rect x="53.8" y="427.1" width="4.8" height="3.3" fill="#00ee00"/>
<rect x="59.5" y="427.1" width="4.8" height="3.3" fill="#00ee00"/>
<rect x="65.1" y="427.0" width="4.8" height="3.4" fill="#00ee00"/>
<rect x="70.7" y="427.0" width="4.8" height="3.4" fill="#00ee00"/>
<rect x="76.3" y="426.6" width="4.8" height="3.8" fill="#00ee00"/>
<rect x="82.0" y="424.6" width="4.8" height="5.8" fill="#00ee00"/>
<rect x="87.6" y="424.6" width="4.8" height="5.8" fill="#00ee00"/>
<rect x="93.2" y="426.9" width="4.8" height="3.5" fill="#00ee00"/>
<rect x="98.9" y="429.6" width="4.8" height="0.8" fill="#00ee00"/>
<rect x="104.5" y="430.4" width="4.8" height="2.7" fill="#ff0000"/>
<rect x="110.1" y="430.4" width="4.8" height="2.8" fill="#ff0000"/>
<rect x="115.7" y="430.4" width="4.8" height="3.0" fill="#ff0000"/>
<rect x="121.4" y="430.4" width="4.8" height="2.6" fill="#ff0000"/>
<rect x="127.0" y="430.4" width="4.8" height="2.1" fill="#ff0000"/>
<rect x="132.6" y="430.4" width="4.8" height="1.5" fill="#ff0000"/>
<rect x="138.2" y="429.6" width="4.8" height="0.8" fill="#00ee00"/>
<rect x="143.9" y="428.1" width="4.8" height="2.3" fill="#00ee00"/>
<rect x="149.5" y="427.0" width="4.8" height="3.4" fill="#00ee00"/>
<rect x="155.1" y="425.9" width="4.8" height="4.5" fill="#00ee00"/>
<rect x="160.7" y="424.8" width="4.8" height="5.6" fill="#00ee00"/>
<rect x="166.4" y="424.0" width="4.8" height="6.4" fill="#00ee00"/>
<rect x="172.0" y="424.8" width="4.8" height="5.6" fill="#00ee00"/>
<rect x="177.6" y="425.2" width="4.8" height="5.2" fill="#00ee00"/>
<rect x="183.2" y="425.6" width="4.8" height="4.8" fill="#00ee00"/>
<rect x="188.9" y="426.2" width="4.8" height="4.2" fill="#00ee00"/>
<rect x="194.5" y="427.4" width="4.8" height="3.0" fill="#00ee00"/>
<rect x="200.1" y="428.4" width="4.8" height="2.0" fill="#00ee00"/>
<rect x="205.7" y="429.6" width="4.8" height="0.8" fill="#00ee00"/>
<rect x="211.4" y="430.4" width="4.8" height="0.5" fill="#ff0000"/>
<rect x="217.0" y="430.4" width="4.8" height="0.4" fill="#ff0000"/>
<rect x="222.6" y="430.4" width="4.8" height="2.5" fill="#ff0000"/>
<rect x="228.3" y="430.4" width="4.8" height="2.5" fill="#ff0000"/>
<rect x="233.9" y="430.4" width="4.8" height="0.4" fill="#ff0000"/>
<rect x="239.5" y="429.9" width="4.8" height="0.5" fill="#00ee00"/>
<rect x="245.1" y="429.9" width="4.8" height="0.5" fill="#00ee00"/>
<rect x="250.8" y="430.4" width="4.8" height="0.8" fill="#ff0000"/>
<rect x="256.4" y="430.4" width="4.8" height="2.0" fill="#ff0000"/>
<rect x="262.0" y="430.4" width="4.8" height="2.4" fill="#ff0000"/>
<rect x="267.6" y="430.4" width="4.8" height="3.3" fill="#ff0000"/>
<rect x="273.3" y="429.1" width="4.8" height="1.3" fill="#00ee00"/>
<rect x="278.9" y="427.1" width="4.8" height="3.3" fill="#00ee00"/>
<rect x="284.5" y="425.8" width="4.8" height="4.6" fill="#00ee00"/>
<rect x="290.1" y="425.2" width="4.8" height="5.2" fill="#00ee00"/>
<rect x="295.8" y="426.4" width="4.8" height="4.0" fill="#00ee00"/>
<rect x="301.4" y="427.8" width="4.8" height="2.6" fill="#00ee00"/>
<rect x="307.0" y="430.4" width="4.8" height="0.5" fill="#ff0000"/>
<rect x="312.6" y="430.4" width="4.8" height="1.5" fill="#ff0000"/>
<rect x="318.3" y="430.4" width="4.8" height="2.0" fill="#ff0000"/>
<rect x="323.9" y="430.4" width="4.8" height="2.0" fill="#ff0000"/>
<rect x="329.5" y="430.4" width="4.8" height="2.0" fill="#ff0000"/>
<rect x="335.1" y="430.4" width="4.8" height="2.0" fill="#ff0000"/>
<rect x="340.8" y="430.4" width="4.8" height="2.2" fill="#ff0000"/>
<rect x="346.4" y="430.4" width="4.8" height="0.5" fill="#ff0000"/>
<rect x="352.0" y="428.9" width="4.8" height="1.5" fill="#00ee00"/>
<rect x="357.6" y="428.8" width="4.8" height="1.6" fill="#00ee00"/>
<rect x="363.3" y="428.8" width="4.8" height="1.6" fill="#00ee00"/>
<rect x="368.9" y="427.1" width="4.8" height="3.3" fill="#00ee00"/>
<rect x="374.5" y="425.9" width="4.8" height="4.5" fill="#00ee00"/>
<rect x="380.2" y="424.8" width="4.8" height="5.6" fill="#00ee00"/>
<rect x="385.8" y="423.9" width="4.8" height="6.5" fill="#00ee00"/>
<rect x="391.4" y="423.8" width="4.8" height="6.6" fill="#00ee00"/>
<rect x="397.0" y="423.7" width="4.8" height="6.7" fill="#00ee00"/>
<rect x="402.7" y="424.7" width="4.8" height="5.7" fill="#00ee00"/>
<rect x="408.3" y="426.7" width="4.8" height="3.7" fill="#00ee00"/>
<rect x="413.9" y="427.5" width="4.8" height="2.9" fill="#00ee00"/>
<rect x="419.5" y="427.9" width="4.8" height="2.5" fill="#00ee00"/>
<rect x="425.2" y="428.7" width="4.8" height="1.7" fill="#00ee00"/>
<rect x="430.8" y="429.4" width="4.8" height="1.0" fill="#00ee00"/>
<rect x="436.4" y="430.4" width="4.8" height="0.5" fill="#ff0000"/>
<rect x="442.0" y="430.4" width="4.8" height="2.3" fill="#ff0000"/>
<rect x="447.7" y="430.4" width="4.8" height="3.6" fill="#ff0000"/>
<rect x="453.3" y="430.4" width="4.8" height="4.9" fill="#ff0000"/>
<rect x="458.9" y="430.4" width="4.8" height="7.6" fill="#ff0000"/>
<rect x="464.5" y="430.4" width="4.8" height="7.0" fill="#ff0000"/>
<rect x="470.2" y="430.4" width="4.8" height="5.4" fill="#ff0000"/>
<rect x="475.8" y="430.4" width="4.8" height="4.6" fill="#ff0000"/>
<rect x="481.4" y="430.4" width="4.8" height="4.1" fill="#ff0000"/>
<rect x="487.0" y="430.4" width="4.8" height="3.6" fill="#ff0000"/>
<rect x="492.7" y="430.4" width="4.8" height="3.0" fill="#ff0000"/>
<rect x="498.3" y="430.4" width="4.8" height="2.0" fill="#ff0000"/>
<rect x="503.9" y="430.4" width="4.8" height="0.9" fill="#ff0000"/>
<rect x="509.6" y="429.5" width="4.8" height="0.9" fill="#00ee00"/>
<rect x="515.2" y="428.1" width="4.8" height="2.3" fill="#00ee00"/>
<rect x="520.8" y="429.2" width="4.8" height="1.2" fill="#00ee00"/>
<rect x="526.4" y="429.7" width="4.8" height="0.7" fill="#00ee00"/>
<rect x="532.1" y="429.9" width="4.8" height="0.5" fill="#00ee00"/>
<rect x="537.7" y="429.5" width="4.8" height="0.9" fill="#00ee00"/>
<rect x="543.3" y="429.2" width="4.8" height="1.2" fill="#00ee00"/>
<rect x="548.9" y="429.4" width="4.8" height="1.0" fill="#00ee00"/>
<rect x="554.6" y="430.0" width="4.8" height="0.4" fill="#00ee00"/>
<rect x="560.2" y="430.4" width="4.8" height="1.5" fill="#ff0000"/>
<rect x="565.8" y="430.4" width="4.8" height="2.7" fill="#ff0000"/>
<rect x="571.4" y="430.4" width="4.8" height="4.0" fill="#ff0000"/>
<rect x="577.1" y="430.4" width="4.8" height="5.4" fill="#ff0000"/>
<rect x="582.7" y="430.4" width="4.8" height="7.3" fill="#ff0000"/>
<rect x="588.3" y="430.4" width="4.8" height="7.6" fill="#ff0000"/>
<rect x="593.9" y="430.4" width="4.8" height="7.5" fill="#ff0000"/>
<rect x="599.6" y="430.4" width="4.8" height="7.5" fill="#ff0000"/>
<rect x="605.2" y="430.4" width="4.8" height="5.9" fill="#ff0000"/>
<rect x="610.8" y="430.4" width="4.8" height="4.7" fill="#ff0000"/>
<rect x="616.4" y="430.4" width="4.8" height="2.1" fill="#ff0000"/>
<rect x="622.1" y="427.5" width="4.8" height="2.9" fill="#00ee00"/>
<rect x="627.7" y="424.3" width="4.8" height="6.1" fill="#00ee00"/>
<rect x="633.3" y="422.3" width="4.8" height="8.1" fill="#00ee00"/>
<rect x="638.9" y="423.0" width="4.8" height="7.4" fill="#00ee00"/>
<rect x="644.6" y="424.4" width="4.8" height="6.0" fill="#00ee00"/>
<rect x="650.2" y="425.4" width="4.8" height="5.0" fill="#00ee00"/>
<rect x="655.8" y="425.3" width="4.8" height="5.1" fill="#00ee00"/>
<rect x="661.5" y="425.3" width="4.8" height="5.1" fill="#00ee00"/>
<rect x="667.1" y="425.2" width="4.8" height="5.2" fill="#00ee00"/>
<rect x="672.7" y="425.2" width="4.8" height="5.2" fill="#00ee00"/>
<rect x="678.3" y="425.4" width="4.8" height="5.0" fill="#00ee00"/>
<rect x="684.0" y="427.3" width="4.8" height="3.1" fill="#00ee00"/>
<rect x="689.6" y="428.4" width="4.8" height="2.0" fill="#00ee00"/>
<rect x="695.2" y="427.0" width="4.8" height="3.4" fill="#00ee00"/>
<rect x="700.8" y="427.2" width="4.8" height="3.2" fill="#00ee00"/>
<rect x="706.5" y="427.7" width="4.8" height="2.7" fill="#00ee00"/>
<rect x="712.1" y="429.3" width="4.8" height="1.1" fill="#00ee00"/>
<rect x="717.7" y="430.4" width="4.8" height="0.3" fill="#ff0000"/>
<rect x="723.3" y="430.4" width="4.8" height="1.9" fill="#ff0000"/>
<rect x="729.0" y="430.4" width="4.8" height="3.8" fill="#ff0000"/>
<rect x="734.6" y="430.4" width="4.8" height="5.2" fill="#ff0000"/>
<rect x="740.2" y="430.4" width="4.8" height="6.1" fill="#ff0000"/>
<rect x="745.8" y="430.4" width="4.8" height="6.9" fill="#ff0000"/>
<rect x="751.5" y="430.4" width="4.8" height="7.8" fill="#ff0000"/>
<rect x="757.1" y="430.4" width="4.8" height="8.9" fill="#ff0000"/>
<rect x="762.7" y="430.4" width="4.8" height="0.9" fill="#ff0000"/>
<rect x="768.3" y="428.3" width="4.8" height="2.1" fill="#00ee00"/>
<rect x="774.0" y="426.3" width="4.8" height="4.1" fill="#00ee00"/>
<rect x="779.6" y="425.1" width="4.8" height="5.3" fill="#00ee00"/>
<rect x="785.2" y="423.7" width="4.8" height="6.7" fill="#00ee00"/>
<rect x="790.9" y="422.3" width="4.8" height="8.1" fill="#00ee00"/>
<rect x="796.5" y="420.4" width="4.8" height="10.0" fill="#00ee00"/>
<rect x="802.1" y="418.6" width="4.8" height="11.8" fill="#00ee00"/>
<rect x="807.7" y="418.6" width="4.8" height="11.8" fill="#00ee00"/>
<rect x="813.4" y="420.3" width="4.8" height="10.1" fill="#00ee00"/>
<rect x="819.0" y="422.2" width="4.8" height="8.2" fill="#00ee00"/>
<rect x="824.6" y="424.5" width="4.8" height="5.9" fill="#00ee00"/>
<rect x="830.2" y="427.0" width="4.8" height="3.4" fill="#00ee00"/>
<rect x="835.9" y="428.3" width="4.8" height="2.1" fill="#00ee00"/>
<rect x="841.5" y="428.7" width="4.8" height="1.7" fill="#00ee00"/>
<rect x="847.1" y="429.9" width="4.8" height="0.5" fill="#00ee00"/>
<rect x="852.7" y="430.4" width="4.8" height="0.4" fill="#ff0000"/>
<rect x="858.4" y="429.7" width="4.8" height="0.7" fill="#00ee00"/>
<rect x="864.0" y="429.4" width="4.8" height="1.0" fill="#00ee00"/>
<rect x="869.6" y="429.3" width="4.8" height="1.1" fill="#00ee00"/>
<rect x="875.2" y="429.3" width="4.8" height="1.1" fill="#00ee00"/>
<rect x="880.9" y="429.2" width="4.8" height="1.2" fill="#00ee00"/>
<rect x="886.5" y="430.4" width="4.8" height="0.5" fill="#ff0000"/>
<rect x="892.1" y="430.4" width="4.8" height="0.8" fill="#ff0000"/>
<rect x="897.7" y="430.4" width="4.8" height="1.0" fill="#ff0000"/>
<rect x="903.4" y="430.4" width="4.8" height="2.3" fill="#ff0000"/>
<rect x="909.0" y="430.4" width="4.8" height="3.1" fill="#ff0000"/>
<rect x="914.6" y="430.4" width="4.8" height="3.9" fill="#ff0000"/>
<rect x="920.2" y="430.4" width="4.8" height="4.8" fill="#ff0000"/>
<rect x="925.9" y="430.4" width="4.8" height="6.3" fill="#ff0000"/>
<rect x="931.5" y="430.4" width="4.8" height="7.8" fill="#ff0000"/>
<rect x="937.1" y="430.4" width="4.8" height="8.8" fill="#ff0000"/>
<rect x="942.8" y="430.4" width="4.8" height="8.6" fill="#ff0000"/>
<rect x="948.4" y="430.4" width="4.8" height="6.9" fill="#ff0000"/>
<rect x="954.0" y="430.4" width="4.8" height="5.0" fill="#ff0000"/>
<rect x="959.6" y="430.4" width="4.8" height="3.2" fill="#ff0000"/>
<rect x="965.3" y="430.4" width="4.8" height="1.9" fill="#ff0000"/>
<rect x="970.9" y="430.4" width="4.8" height="1.5" fill="#ff0000"/>
<rect x="976.5" y="430.4" width="4.8" height="1.5" fill="#ff0000"/>
<rect x="982.1" y="430.4" width="4.8" height="1.6" fill="#ff0000"/>
<rect x="987.8" y="430.4" width="4.8" height="1.6" fill="#ff0000"/>
<rect x="993.4" y="430.4" width="4.8" height="2.0" fill="#ff0000"/>
<rect x="999.0" y="430.4" width="4.8" height="3.2" fill="#ff0000"/>
<rect x="1004.6" y="430.4" width="4.8" height="4.8" fill="#ff0000"/>
<rect x="1010.3" y="430.4" width="4.8" height="6.6" fill="#ff0000"/>
<rect x="1015.9" y="430.4" width="4.8" height="7.2" fill="#ff0000"/>
<rect x="1021.5" y="430.4" width="4.8" height="6.8" fill="#ff0000"/>
<rect x="1027.1" y="430.4" width="4.8" height="5.6" fill="#ff0000"/>
<rect x="1032.8" y="430.4" width="4.8" height="4.0" fill="#ff0000"/>
<rect x="1038.4" y="430.4" width="4.8" height="2.5" fill="#ff0000"/>
<rect x="1044.0" y="430.4" width="4.8" height="1.3" fill="#ff0000"/>
<rect x="1049.6" y="430.4" width="4.8" height="0.5" fill="#ff0000"/>
<rect x="1055.3" y="430.0" width="4.8" height="0.4" fill="#00ee00"/>
<rect x="1060.9" y="428.8" width="4.8" height="1.6" fill="#00ee00"/>
<path d="M0.0 449.4C4.0 448.9 16.0 447.6 24.0 446.3C32.0 445.0 40.0 443.2 48.0 441.5C56.0 439.8 64.0 437.9 72.0 436.2C80.0 434.5 90.0 431.9 96.0 431.1C102.0 430.3 104.0 430.9 108.0 431.4C112.0 431.8 115.6 433.2 120.0 433.8C124.4 434.4 129.7 434.8 134.5 434.7C139.3 434.6 143.4 434.1 149.0 433.0C154.6 431.9 162.4 429.7 168.0 428.2C173.6 426.7 177.4 425.2 182.6 423.9C187.8 422.6 194.6 421.1 199.4 420.3C204.2 419.6 206.6 419.3 211.4 419.4C216.2 419.5 222.8 420.6 228.0 421.0C233.2 421.4 238.2 421.5 242.7 421.5C247.1 421.5 249.9 420.7 254.7 421.0C259.5 421.3 267.3 423.2 271.5 423.4C275.7 423.6 276.6 422.8 280.0 422.0C283.4 421.2 288.0 419.6 292.0 418.9C296.0 418.2 300.0 418.0 304.0 418.0C308.0 418.0 312.0 418.5 316.0 418.9C320.0 419.2 323.2 419.6 328.0 420.1C332.8 420.6 340.2 421.8 345.0 422.0C349.8 422.2 353.0 421.7 357.0 421.3C361.0 420.9 365.0 420.4 369.0 419.6C373.0 418.8 377.0 417.6 381.0 416.5C385.0 415.4 389.0 414.0 393.0 412.9C397.0 411.8 401.0 410.8 405.0 410.0C409.0 409.2 413.0 408.7 417.0 408.3C421.0 407.9 425.8 407.8 429.0 407.6C432.2 407.4 432.8 406.8 436.0 407.1C439.2 407.4 444.0 408.4 448.0 409.3C452.0 410.2 456.0 411.4 460.0 412.4C464.0 413.4 468.0 414.4 472.0 415.3C476.0 416.2 480.0 417.0 484.0 417.7C488.0 418.4 492.0 419.2 496.0 419.6C500.0 420.0 504.0 420.2 508.0 420.1C512.0 420.0 516.0 419.5 520.0 419.2C524.0 418.9 528.0 418.6 532.0 418.4C536.0 418.1 540.0 418.0 544.0 417.7C548.0 417.4 553.3 416.9 556.0 416.8C558.7 416.7 557.3 416.7 560.0 417.2C562.7 417.7 568.0 418.5 572.0 419.6C576.0 420.7 580.0 422.4 584.0 423.7C588.0 425.0 592.0 426.2 596.0 427.3C600.0 428.4 604.0 429.4 608.0 430.0C612.0 430.6 616.0 431.5 620.0 431.2C624.0 430.9 628.0 429.1 632.0 428.0C636.0 426.9 640.0 425.5 644.0 424.4C648.0 423.3 652.0 422.3 656.0 421.3C660.0 420.3 664.0 419.4 668.0 418.4C672.0 417.4 676.0 416.2 680.0 415.5C684.0 414.8 688.0 414.6 692.0 414.1C696.0 413.6 700.0 412.9 704.0 412.4C708.0 411.9 712.0 411.1 716.0 411.2C720.0 411.3 724.0 412.1 728.0 412.9C732.0 413.7 736.0 414.8 740.0 416.0C744.0 417.2 748.8 419.0 752.0 420.1C755.2 421.2 757.0 422.1 759.4 422.5C761.8 422.9 763.8 422.8 766.6 422.5C769.4 422.2 772.4 421.7 776.0 420.8C779.6 419.9 784.0 418.5 788.0 417.2C792.0 415.9 796.0 414.6 800.0 412.9C804.0 411.2 808.0 408.7 812.0 406.9C816.0 405.1 820.0 403.5 824.0 402.3C828.0 401.1 831.3 400.3 836.0 399.7C840.7 399.1 847.3 399.0 852.0 398.7C856.7 398.4 860.0 398.2 864.0 398.0C868.0 397.8 872.0 397.5 876.0 397.3C880.0 397.1 884.0 396.8 888.0 396.8C892.0 396.8 896.0 397.1 900.0 397.5C904.0 397.9 908.0 398.4 912.0 399.2C916.0 400.0 920.0 401.0 924.0 402.1C928.0 403.2 932.0 404.4 936.0 405.7C940.0 407.0 944.0 408.8 948.0 410.0C952.0 411.2 956.0 412.2 960.0 412.9C964.0 413.6 968.0 413.9 972.0 414.3C976.0 414.7 980.0 414.9 984.0 415.3C988.0 415.7 992.0 415.9 996.0 416.5C1000.0 417.1 1004.0 418.2 1008.0 419.2C1012.0 420.2 1016.0 421.4 1020.0 422.5C1024.0 423.6 1028.0 424.8 1032.0 425.6C1036.0 426.4 1040.0 427.0 1044.0 427.3C1048.0 427.6 1052.8 427.8 1056.0 427.6C1059.2 427.5 1062.2 426.6 1063.4 426.4" fill="none" stroke="#ff7f27" stroke-width="1.0" stroke-linejoin="round" stroke-linecap="butt"/>
<path d="M0.0 447.0C2.8 446.7 11.6 445.8 16.8 445.0C22.0 444.2 25.8 443.1 31.0 442.0C36.2 440.9 42.3 439.6 48.0 438.3C53.7 437.0 59.8 435.6 65.0 434.3C70.2 433.0 73.8 431.7 79.0 430.7C84.2 429.7 92.0 428.0 96.0 428.2C100.0 428.4 100.2 430.7 103.0 431.9C105.8 433.1 109.8 434.6 113.0 435.5C116.2 436.4 118.9 437.0 122.5 437.1C126.1 437.2 130.9 436.8 134.5 435.9C138.1 435.0 140.4 433.2 144.0 431.9C147.6 430.5 152.0 429.6 156.0 427.8C160.0 426.0 164.0 422.4 168.0 421.0C172.0 419.6 176.0 420.2 180.0 419.4C184.0 418.6 188.8 416.6 192.0 416.2C195.2 415.8 196.2 416.2 199.4 416.7C202.6 417.2 206.6 418.1 211.4 419.4C216.2 420.6 222.8 424.0 228.0 424.2C233.2 424.4 238.2 420.6 242.7 420.3C247.1 420.0 250.3 421.1 254.7 422.2C259.1 423.3 265.0 427.4 269.0 427.0C273.0 426.6 276.9 421.2 278.7 419.8C280.5 418.4 277.8 419.3 280.0 418.4C282.2 417.5 288.4 414.9 292.0 414.3C295.6 413.7 298.4 414.1 301.6 414.8C304.8 415.5 307.4 417.2 311.0 418.4C314.6 419.6 319.0 421.3 323.0 422.0C327.0 422.7 331.7 422.2 335.0 422.5C338.3 422.8 340.2 424.4 343.0 424.0C345.8 423.6 348.5 421.2 352.0 420.4C355.5 419.5 360.0 420.0 364.0 418.9C368.0 417.8 372.0 415.4 376.0 413.6C380.0 411.8 384.0 409.8 388.0 408.3C392.0 406.8 397.2 405.3 400.0 404.7C402.8 404.1 403.2 404.2 405.0 404.5C406.8 404.8 409.0 406.2 411.0 406.4C413.0 406.6 414.8 405.9 417.0 405.9C419.2 405.9 421.2 406.3 424.0 406.4C426.8 406.5 430.6 405.6 433.8 406.4C437.0 407.2 439.8 409.7 443.4 411.2C447.0 412.7 452.2 413.9 455.4 415.5C458.6 417.1 459.8 419.8 462.6 420.8C465.4 421.8 469.2 421.3 472.0 421.3C474.8 421.3 477.0 420.6 479.4 420.8C481.8 421.0 483.8 422.2 486.6 422.5C489.4 422.8 492.8 422.8 496.0 422.5C499.2 422.2 502.4 421.7 505.8 420.8C509.2 419.9 512.7 417.7 516.7 417.2C520.7 416.7 526.2 418.0 530.0 418.0C533.8 418.0 535.9 417.5 539.5 417.2C543.1 416.9 548.3 416.0 551.5 416.0C554.7 416.0 555.7 416.2 558.7 417.2C561.7 418.2 566.6 420.9 569.6 422.0C572.6 423.1 574.0 422.3 576.8 423.7C579.6 425.1 583.2 428.8 586.4 430.4C589.6 432.0 592.4 432.4 596.0 433.3C599.6 434.2 604.8 435.8 608.0 436.0C611.2 436.2 612.6 435.7 615.0 434.8C617.4 433.9 620.0 432.3 622.5 430.4C625.0 428.5 627.3 425.2 629.7 423.2C632.1 421.2 634.6 419.5 637.0 418.4C639.4 417.3 641.6 417.1 644.0 416.8C646.4 416.5 648.5 417.2 651.3 416.8C654.1 416.4 657.8 415.1 661.0 414.3C664.2 413.5 667.3 412.5 670.5 411.9C673.7 411.3 677.2 410.5 680.0 410.5C682.8 410.5 685.3 411.7 687.3 411.9C689.3 412.1 690.4 412.1 692.0 411.7C693.6 411.3 694.6 410.0 697.0 409.5C699.4 409.0 703.8 408.8 706.6 408.8C709.4 408.8 711.0 408.9 713.8 409.5C716.6 410.1 719.4 410.5 723.4 412.4C727.4 414.3 733.4 418.5 737.8 420.8C742.2 423.1 746.2 424.5 749.8 426.1C753.4 427.7 756.6 431.1 759.4 430.4C762.2 429.7 763.8 424.4 766.6 422.0C769.4 419.6 772.8 417.7 776.0 416.0C779.2 414.3 783.0 413.1 785.8 411.7C788.6 410.3 790.6 409.3 793.0 407.6C795.4 405.9 797.2 403.7 800.0 401.6C802.8 399.5 806.6 396.2 809.9 394.9C813.1 393.6 816.7 393.8 819.5 393.7C822.3 393.6 824.5 394.0 826.7 394.4C828.9 394.8 830.5 396.0 832.7 396.3C834.9 396.6 837.6 395.8 840.0 396.0C842.4 396.2 844.6 396.8 847.0 397.3C849.4 397.8 851.6 399.3 854.4 399.2C857.2 399.1 860.0 397.4 864.0 396.8C868.0 396.2 874.4 395.4 878.4 395.6C882.4 395.8 884.4 397.4 888.0 398.0C891.6 398.6 896.0 398.4 900.0 399.2C904.0 400.0 908.0 401.4 912.0 402.8C916.0 404.2 921.2 406.7 924.0 407.6C926.8 408.5 926.2 406.9 929.0 408.3C931.8 409.7 937.4 414.3 941.0 416.0C944.6 417.7 947.3 418.2 950.5 418.4C953.7 418.6 956.8 417.7 960.0 417.2C963.2 416.7 966.5 415.7 969.7 415.5C972.9 415.3 975.8 415.6 979.4 416.0C983.0 416.4 987.4 416.7 991.4 417.7C995.4 418.7 999.8 420.6 1003.4 422.0C1007.0 423.4 1009.8 425.1 1013.0 426.4C1016.2 427.7 1019.0 429.4 1022.6 430.0C1026.2 430.6 1031.0 430.3 1034.6 430.0C1038.2 429.7 1041.0 428.4 1044.2 428.0C1047.4 427.6 1050.6 427.8 1053.8 427.3C1057.0 426.8 1061.8 425.6 1063.4 425.2" fill="none" stroke="#2238ff" stroke-width="1.0" stroke-linejoin="round" stroke-linecap="butt"/>
<rect x="1" y="462.3" width="1062.4" height="19.2" fill="#00ff00" fill-opacity="0.5"/>
<rect x="1" y="508.5" width="1062.4" height="20.1" fill="#ff0000" fill-opacity="0.5"/>
<line x1="1" y1="481.5" x2="1063" y2="481.5" stroke="#000" stroke-opacity="0.8" stroke-width="1" stroke-dasharray="5.2,0.45"/>
<line x1="1" y1="508.5" x2="1063" y2="508.5" stroke="#000" stroke-opacity="0.8" stroke-width="1" stroke-dasharray="5.2,0.45"/>
<rect x="1063" y="462.3" width="1" height="19.7" fill="#000"/>
<rect x="1063" y="508" width="1" height="20.6" fill="#000"/>
<rect x="0" y="462.3" width="1" height="19.7" fill="#000"/>
<rect x="0" y="508" width="1" height="20.6" fill="#000"/>
<polyline points="0.0,493.6 6.0,498.8 16.8,500.5 22.8,497.6 28.8,498.4 33.6,496.0 45.6,495.2 56.5,495.2 62.5,492.4 67.3,494.0 73.3,491.2 79.3,491.6 84.0,486.8 90.0,488.8 96.0,495.2 102.0,502.0 113.0,502.4 119.0,500.0 125.0,498.4 129.7,496.0 135.7,495.2 141.0,489.2 146.6,492.8 152.6,488.8 163.4,484.4 169.4,484.9 175.0,490.4 180.0,488.0 186.0,486.8 192.0,486.4 197.0,488.5 203.0,492.4 213.8,491.6 218.6,492.8 225.0,498.8 236.7,488.0 241.5,486.4 248.7,493.3 253.5,494.0 258.3,495.7 264.3,494.5 269.6,498.4 275.6,486.4 280.0,485.4 286.0,487.3 292.0,486.4 298.0,490.0 304.0,491.6 309.6,495.7 316.0,494.8 322.0,494.5 331.7,491.6 337.7,493.3 343.0,495.2 349.7,487.6 354.5,487.6 360.5,490.4 366.0,489.2 371.3,484.9 377.3,484.4 383.3,482.5 388.0,482.7 394.0,482.0 405.0,482.0 411.0,489.2 416.5,484.9 421.8,486.1 427.8,488.0 433.0,484.4 439.8,492.1 444.6,492.8 450.0,494.5 455.4,491.6 461.4,500.5 467.4,493.6 472.2,491.6 478.2,492.1 483.8,494.5 490.2,493.3 498.6,492.1 505.9,489.7 517.0,486.4 523.0,492.1 533.5,491.2 540.7,488.8 551.5,487.3 556.3,490.0 562.3,494.8 567.2,496.9 573.2,494.0 579.2,498.4 585.2,502.9 591.2,499.3 596.0,499.3 602.0,500.8 608.0,495.7 614.0,495.7 624.9,487.3 630.4,484.0 635.7,484.0 641.7,489.2 647.0,488.8 652.5,491.6 658.5,487.6 668.0,486.4 675.3,485.6 681.3,486.4 687.3,490.9 692.0,488.8 697.7,483.7 703.4,487.6 709.0,487.3 715.0,489.7 720.5,490.4 727.0,495.2 731.8,496.4 737.8,498.1 742.6,496.4 748.6,498.1 759.4,501.7 765.4,484.9 771.4,485.2 777.4,484.4 782.2,485.2 787.0,483.7 793.0,482.5 799.0,479.6 805.0,478.4 811.0,479.6 815.9,482.0 821.9,482.5 826.7,482.0 832.7,487.3 838.7,483.7 844.3,483.2 850.0,487.3 855.6,485.2 861.0,482.0 866.4,482.7 877.2,481.5 883.2,482.7 889.3,486.8 894.8,484.0 900.0,484.9 909.7,486.8 916.9,487.6 922.9,491.2 928.4,488.5 933.7,494.8 939.2,497.6 945.7,493.3 951.0,492.8 957.0,488.8 962.5,488.0 968.5,487.6 973.4,488.5 979.4,490.4 984.2,491.2 990.2,489.2 1001.5,495.7 1007.5,497.6 1013.0,500.5 1019.0,499.3 1023.8,499.3 1029.8,495.2 1035.1,493.6 1041.3,490.4 1046.6,491.6 1052.6,490.9 1057.4,490.0 1063.4,488.5" fill="none" stroke="#2238ff" stroke-width="1.0" stroke-linejoin="round" stroke-linecap="round" />
<g stroke="#909090" stroke-width="1">
<line x1="1131" y1="23.0" x2="1136" y2="23.0"/>
<line x1="1131" y1="47.8" x2="1136" y2="47.8"/>
<line x1="1131" y1="72.6" x2="1136" y2="72.6"/>
<line x1="1131" y1="97.4" x2="1136" y2="97.4"/>
<line x1="1131" y1="122.2" x2="1136" y2="122.2"/>
<line x1="1131" y1="147.0" x2="1136" y2="147.0"/>
<line x1="1131" y1="171.8" x2="1136" y2="171.8"/>
<line x1="1131" y1="196.6" x2="1136" y2="196.6"/>
<line x1="1131" y1="221.4" x2="1136" y2="221.4"/>
<line x1="1131" y1="246.2" x2="1136" y2="246.2"/>
<line x1="1131" y1="271.0" x2="1136" y2="271.0"/>
<line x1="1131" y1="295.8" x2="1136" y2="295.8"/>
<line x1="1131" y1="320.6" x2="1136" y2="320.6"/>
<line x1="1131" y1="345.4" x2="1136" y2="345.4"/>
<line x1="1131" y1="370.2" x2="1136" y2="370.2"/>
<line x1="1131" y1="398.5" x2="1136" y2="398.5"/>
<line x1="1131" y1="430.5" x2="1136" y2="430.5"/>
<line x1="1131" y1="495.5" x2="1136" y2="495.5"/>
<line x1="1131" y1="528.5" x2="1136" y2="528.5"/>
</g>
<g font-size="10.8" fill="#555555">
<text x="1138.5" y="26.7">0.6200</text>
<text x="1138.5" y="51.5">0.6150</text>
<text x="1138.5" y="76.3">0.6100</text>
<text x="1138.5" y="101.1">0.6050</text>
<text x="1138.5" y="125.9">0.6000</text>
<text x="1138.5" y="150.7">0.5950</text>
<text x="1138.5" y="175.5">0.5900</text>
<text x="1138.5" y="200.3">0.5850</text>
<text x="1138.5" y="225.1">0.5800</text>
<text x="1138.5" y="249.9">0.5750</text>
<text x="1138.5" y="274.7">0.5700</text>
<text x="1138.5" y="299.5">0.5650</text>
<text x="1138.5" y="324.3">0.5600</text>
<text x="1138.5" y="349.1">0.5550</text>
<text x="1138.5" y="373.9">0.5500</text>
<text x="1138.5" y="402.2">0.0050</text>
<text x="1138.5" y="434.2">0.0000</text>
<text x="1138.5" y="499.2">50.0000</text>
<text x="1138.5" y="532.2">0.0000</text>
</g>
<path d="M1131 39.5 L1134 36.5 L1134 33.5 Q1134 32 1135.5 32 L1186.5 32 Q1188 32 1188 33.5 L1188 46.5 Q1188 48 1186.5 48 L1135.5 48 Q1134 48 1134 46.5 L1134 42.5 Z" fill="#2f4f7a"/>
<text x="1138.5" y="44.8" font-size="11" font-weight="bold" fill="#ffffff">0.616675</text>
<g fill="#888">
<rect x="0" y="530" width="1" height="2"/>
<rect x="50" y="530" width="1" height="2"/>
<rect x="84" y="530" width="1" height="2"/>
<rect x="117" y="530" width="1" height="2"/>
<rect x="157" y="530" width="1" height="2"/>
<rect x="191" y="530" width="1" height="2"/>
<rect x="224" y="530" width="1" height="2"/>
<rect x="258" y="530" width="1" height="2"/>
<rect x="292" y="530" width="1" height="2"/>
<rect x="331" y="530" width="1" height="2"/>
<rect x="365" y="530" width="1" height="2"/>
<rect x="399" y="530" width="1" height="2"/>
<rect x="433" y="530" width="1" height="2"/>
<rect x="466" y="530" width="1" height="2"/>
<rect x="506" y="530" width="1" height="2"/>
<rect x="539" y="530" width="1" height="2"/>
<rect x="573" y="530" width="1" height="2"/>
<rect x="607" y="530" width="1" height="2"/>
<rect x="640" y="530" width="1" height="2"/>
<rect x="680" y="530" width="1" height="2"/>
<rect x="714" y="530" width="1" height="2"/>
<rect x="748" y="530" width="1" height="2"/>
<rect x="782" y="530" width="1" height="2"/>
<rect x="816" y="530" width="1" height="2"/>
<rect x="855" y="530" width="1" height="2"/>
<rect x="889" y="530" width="1" height="2"/>
<rect x="922" y="530" width="1" height="2"/>
<rect x="956" y="530" width="1" height="2"/>
<rect x="990" y="530" width="1" height="2"/>
<rect x="1029" y="530" width="1" height="2"/>
<rect x="1063" y="530" width="1" height="2"/>
<rect x="1097" y="530" width="1" height="2"/>
</g>
<g font-size="10.8" fill="#555555" text-anchor="middle">
<text x="0" y="545.8" text-anchor="start">Oct</text>
<text x="50.9" y="545.8">13</text>
<text x="84.8" y="545.8">14</text>
<text x="118.2" y="545.8">16</text>
<text x="157.6" y="545.8">18</text>
<text x="191.5" y="545.8">19</text>
<text x="224.9" y="545.8">20</text>
<text x="259.0" y="545.8">21</text>
<text x="292.8" y="545.8">23</text>
<text x="332.2" y="545.8">25</text>
<text x="365.9" y="545.8">26</text>
<text x="399.8" y="545.8">27</text>
<text x="433.6" y="545.8">28</text>
<text x="467.2" y="545.8">30</text>
<text x="506.6" y="545.8">Nov</text>
<text x="540.2" y="545.8">2</text>
<text x="574.0" y="545.8">3</text>
<text x="607.8" y="545.8">4</text>
<text x="641.2" y="545.8">6</text>
<text x="680.9" y="545.8">8</text>
<text x="714.6" y="545.8">9</text>
<text x="748.5" y="545.8">10</text>
<text x="782.4" y="545.8">11</text>
<text x="816.3" y="545.8">13</text>
<text x="855.6" y="545.8">15</text>
<text x="889.4" y="545.8">16</text>
<text x="923.3" y="545.8">17</text>
<text x="956.9" y="545.8">18</text>
<text x="990.4" y="545.8">20</text>
<text x="1029.7" y="545.8">22</text>
<text x="1063.6" y="545.8">23</text>
<text x="1097.5" y="545.8">24</text>
</g>
<rect x="555" y="386.0" width="20" height="1" fill="#555"/>
<rect x="555" y="388.0" width="20" height="1" fill="#555"/>
<rect x="555" y="390.0" width="20" height="1" fill="#555"/>
<rect x="555" y="454.0" width="20" height="1" fill="#555"/>
<rect x="555" y="456.0" width="20" height="1" fill="#555"/>
<rect x="555" y="458.0" width="20" height="1" fill="#555"/>
<rect x="5" y="5" width="78" height="21" fill="#000000" fill-opacity="0.6"/>
<rect x="5" y="5" width="2" height="21" fill="#2f8572"/>
<text x="16" y="19.7" font-size="11" font-weight="bold" fill="#ffffff">NZD/USD</text>
<rect x="5" y="32" width="90" height="21" fill="#000000" fill-opacity="0.6"/>
<rect x="5" y="32" width="2" height="21" fill="#55dd11"/>
<text x="16" y="46.7" font-size="11" font-weight="bold" fill="#ffffff">EMA (200,0)</text>
<rect x="5" y="59" width="84" height="21" fill="#000000" fill-opacity="0.6"/>
<rect x="5" y="59" width="2" height="21" fill="#f686ae"/>
<text x="16" y="73.7" font-size="11" font-weight="bold" fill="#ffffff">EMA (50,0)</text>
<rect x="5" y="397" width="109" height="21" fill="#000000" fill-opacity="0.6"/>
<rect x="5" y="397" width="2" height="21" fill="#1a2cff"/>
<text x="16" y="411.7" font-size="11" font-weight="bold" fill="#ffffff">MACD (12,26,9)</text>
<rect x="5" y="465" width="110" height="21" fill="#000000" fill-opacity="0.6"/>
<rect x="5" y="465" width="2" height="21" fill="#33ee11"/>
<text x="16" y="479.7" font-size="11" font-weight="bold" fill="#ffffff">RSI (14,70,30,1)</text>
</svg>
</body></html>
